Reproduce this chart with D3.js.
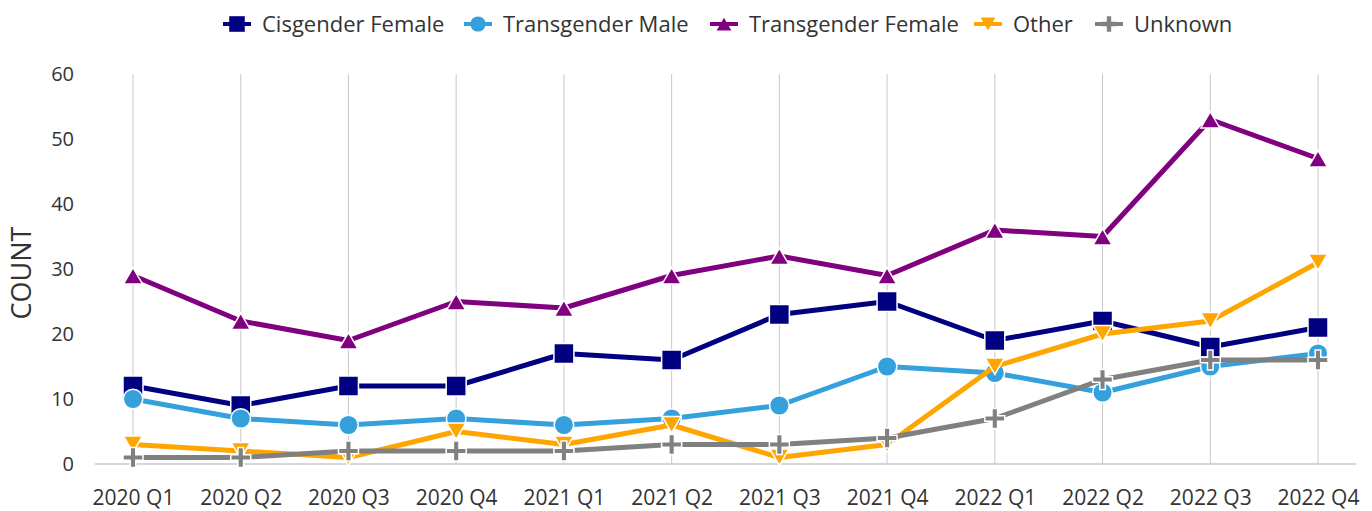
<!DOCTYPE html>
<html>
<head>
<meta charset="utf-8">
<script src="https://cdn.jsdelivr.net/npm/d3@7"></script>
<style>
  body { margin: 0; background: #fff; }
  svg { display: block; font-family: "Open Sans", "Noto Sans", sans-serif; }
  .tick text { fill: #333; }
</style>
</head>
<body>
<svg id="chart" width="1372" height="511"></svg>
<script>
var quarters = ["2020 Q1", "2020 Q2", "2020 Q3", "2020 Q4", "2021 Q1", "2021 Q2",
                "2021 Q3", "2021 Q4", "2022 Q1", "2022 Q2", "2022 Q3", "2022 Q4"];
var cisFemale   = [12, 9, 12, 12, 17, 16, 23, 25, 19, 22, 18, 21];
var transMale   = [10, 7, 6, 7, 6, 7, 9, 15, 14, 11, 15, 17];
var transFemale = [29, 22, 19, 25, 24, 29, 32, 29, 36, 35, 53, 47];
var other       = [3, 2, 1, 5, 3, 6, 1, 3, 15, 20, 22, 31];
var unknown     = [1, 1, 2, 2, 2, 3, 3, 4, 7, 13, 16, 16];
var yTicks = [0, 10, 20, 30, 40, 50, 60];

var series = [
    { name: "Cisgender Female", values: cisFemale, color: "#000080", shape: "square" },
    { name: "Transgender Male", values: transMale, color: "#34a1dd", shape: "circle" },
    { name: "Transgender Female", values: transFemale, color: "#800080", shape: "triangle" },
    { name: "Other", values: other, color: "#ffa500", shape: "down" },
    { name: "Unknown", values: unknown, color: "#808080", shape: "plus" }
];

var svg = d3.select('#chart');

var x = d3.scalePoint().domain(quarters).range([133, 1318]);
var y = d3.scaleLinear().domain([0, 60]).range([464, 74]);

// marker shapes, k scales them down for the legend
function markerPath(shape, k) {
    k = k || 1;
    if (shape === "square") return d3.symbol(d3.symbolSquare, 400 * k * k)();
    if (shape === "circle") return d3.symbol(d3.symbolCircle, 300 * k * k)();
    if (shape === "triangle" || shape === "down") return d3.symbol(d3.symbolTriangle, 155 * k * k)();
    // plus
    var a = 10 * k, t = 2.8 * k;
    return "M" + (-t) + "," + (-a) + "H" + t + "V" + (-t) + "H" + a + "V" + t + "H" + t +
        "V" + a + "H" + (-t) + "V" + t + "H" + (-a) + "V" + (-t) + "H" + (-t) + "Z";
}
function markerTransform(shape, px, py, k) {
    k = k || 1;
    if (shape === "down") return "translate(" + px + "," + (py - 3 * k) + ") rotate(180)";
    if (shape === "triangle") return "translate(" + px + "," + (py + 3 * k) + ")";
    return "translate(" + px + "," + py + ")";
}

// vertical gridlines
svg.append('g')
    .selectAll('line')
    .data(quarters)
    .enter()
    .append('line')
    .attr('x1', d => x(d)).attr('x2', d => x(d))
    .attr('y1', y(60)).attr('y2', y(0))
    .attr('stroke', '#c8c8c8')
    .attr('stroke-width', 1);

// baseline
svg.append('line')
    .attr('x1', 95).attr('x2', 1356)
    .attr('y1', y(0)).attr('y2', y(0))
    .attr('stroke', '#c8c8c8')
    .attr('stroke-width', 1.5);

// y axis labels
var yAxis = svg.append('g')
    .attr('transform', 'translate(74,0)')
    .call(d3.axisLeft(y).tickValues(yTicks).tickSize(0).tickPadding(0));
yAxis.select('.domain').remove();
yAxis.selectAll('text').attr('font-size', 20).attr('font-family', '"Open Sans", sans-serif');

// x axis labels
var xAxis = svg.append('g')
    .attr('transform', 'translate(0,' + y(0) + ')')
    .call(d3.axisBottom(x).tickSize(0).tickPadding(26));
xAxis.select('.domain').remove();
xAxis.selectAll('text').attr('font-size', 21).attr('font-family', '"Open Sans", sans-serif');

// y title
svg.append('text')
    .attr('transform', 'translate(31,273) rotate(-90)')
    .attr('text-anchor', 'middle')
    .attr('font-size', 27)
    .attr('fill', '#333')
    .text('COUNT');

var line = d3.line()
    .x((d, i) => x(quarters[i]))
    .y(d => y(d));

series.forEach(s => {
    var g = svg.append('g');
    g.append('path')
        .attr('d', line(s.values))
        .attr('fill', 'none')
        .attr('stroke', s.color)
        .attr('stroke-width', 5)
        .attr('stroke-linejoin', 'round');

    g.selectAll('path.mark')
        .data(s.values)
        .enter()
        .append('path')
        .attr('class', 'mark')
        .attr('d', markerPath(s.shape))
        .attr('transform', (d, i) => markerTransform(s.shape, x(quarters[i]), y(d)))
        .attr('fill', s.color)
        .attr('stroke', '#fff')
        .attr('stroke-width', 1.5);
});

// legend
var legendX = [237, 478, 724, 988, 1109];
var legend = svg.append('g')
    .selectAll('g')
    .data(series)
    .enter()
    .append('g')
    .attr('transform', (d, i) => 'translate(' + legendX[i] + ',24)');

legend.append('line')
    .attr('x1', -14).attr('x2', 14)
    .attr('stroke', d => d.color)
    .attr('stroke-width', 4);

legend.append('path')
    .attr('d', d => markerPath(d.shape, 0.78))
    .attr('transform', d => markerTransform(d.shape, 0, 0, 0.78))
    .attr('fill', d => d.color);

legend.append('text')
    .attr('x', 25)
    .attr('dy', '0.35em')
    .attr('font-size', 22)
    .attr('fill', '#333')
    .text(d => d.name);
</script>
</body>
</html>
